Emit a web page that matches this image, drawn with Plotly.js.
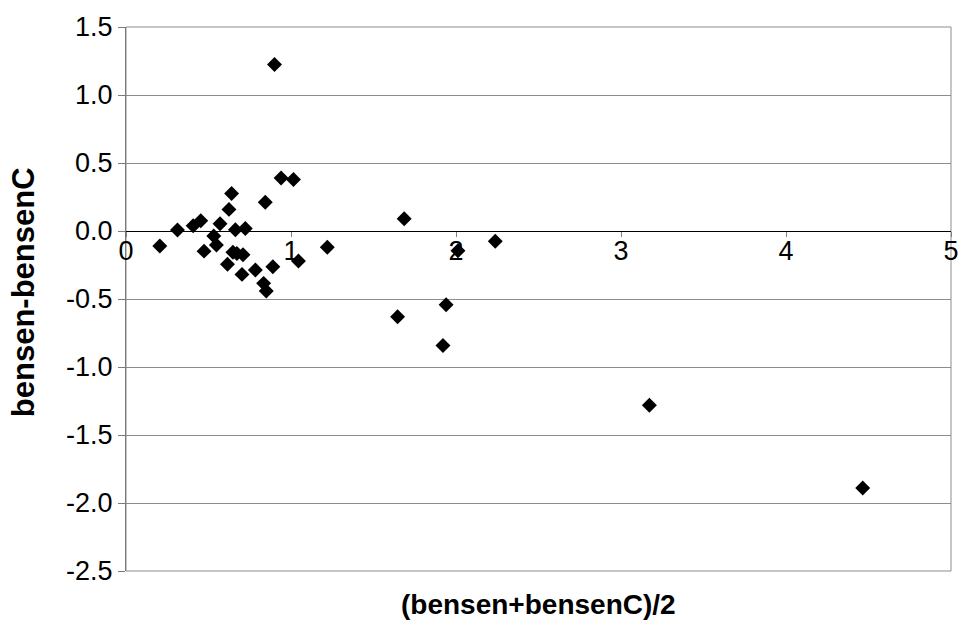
<!DOCTYPE html>
<html>
<head>
<meta charset="utf-8">
<script src="https://cdn.plot.ly/plotly-3.0.1.min.js"></script>
<style>html,body{margin:0;padding:0;background:#fff;}#chart{width:959px;height:639px;}</style>
</head>
<body>
<div id="chart"></div>
<script>
// mean of the two measurements
var meanValues = [0.205, 0.312, 0.407, 0.453, 0.473, 0.532, 0.548, 0.570, 0.624, 0.640,
  0.663, 0.723, 0.648, 0.672, 0.709, 0.615, 0.703, 0.784, 0.834, 0.850,
  0.890, 0.844, 0.940, 1.015, 1.045, 1.220, 0.900,
  1.686, 2.012, 2.238, 1.940, 1.646, 1.921, 3.172, 4.465];
// difference of the two measurements
var diffValues = [-0.111, 0.007, 0.038, 0.075, -0.148, -0.037, -0.103, 0.053, 0.159, 0.276,
  0.009, 0.019, -0.157, -0.165, -0.175, -0.245, -0.319, -0.287, -0.385, -0.441,
  -0.263, 0.212, 0.390, 0.379, -0.221, -0.120, 1.225,
  0.090, -0.145, -0.076, -0.542, -0.630, -0.842, -1.281, -1.890];

var xTickVals = [0, 1, 2, 3, 4, 5];
var xTickText = ['0', '1', '2', '3', '4', '5'];
var yTickVals = [1.5, 1.0, 0.5, 0.0, -0.5, -1.0, -1.5, -2.0, -2.5];
var yTickText = ['1.5', '1.0', '0.5', '0.0', '-0.5', '-1.0', '-1.5', '-2.0', '-2.5'];
var xTitle = '(bensen+bensenC)/2';
var yTitle = 'bensen-bensenC';

var trace = {
  x: meanValues, y: diffValues, type: 'scatter', mode: 'markers',
  marker: {symbol: 'diamond', size: 11.5, color: '#000000', line: {width: 0}},
  hoverinfo: 'x+y', cliponaxis: false
};

var layout = {
  width: 959, height: 639,
  margin: {l: 126, r: 8, t: 27, b: 68, pad: 0},
  paper_bgcolor: '#ffffff', plot_bgcolor: '#ffffff',
  font: {family: 'Liberation Sans, Arial, sans-serif', size: 27, color: '#000'},
  showlegend: false,
  xaxis: {
    range: [0, 5], tickvals: xTickVals, ticktext: xTickText,
    showgrid: false, zeroline: false,
    showline: true, linecolor: '#000', linewidth: 1,
    ticks: 'outside', ticklen: 5, tickcolor: '#808080', tickwidth: 1,
    anchor: 'free', position: 0.625,
    ticklabeloverflow: 'allow', ticklabelstandoff: -9,
    tickfont: {size: 27, color: '#000'}
  },
  yaxis: {
    range: [-2.5, 1.5], tickvals: yTickVals, ticktext: yTickText,
    showgrid: true, gridcolor: '#8c8c8c', gridwidth: 1,
    zeroline: false,
    showline: true, linecolor: '#7a7a7a', linewidth: 1,
    ticks: 'outside', ticklen: 7, tickcolor: '#7a7a7a',
    tickfont: {size: 27, color: '#000'}
  },
  shapes: [
    {type: 'rect', xref: 'paper', yref: 'paper', x0: 0, x1: 1, y0: 0, y1: 1,
     line: {color: '#8c8c8c', width: 1}, fillcolor: 'rgba(0,0,0,0)', layer: 'below'}
  ],
  annotations: [
    {text: '<b>' + xTitle + '</b>', xref: 'paper', yref: 'paper', x: 0.5, y: -0.062,
     xanchor: 'center', yanchor: 'middle', showarrow: false, font: {size: 28, color: '#000'}},
    {text: '<b>' + yTitle + '</b>', xref: 'paper', yref: 'paper', x: -0.124, y: 0.512,
     xanchor: 'center', yanchor: 'middle', textangle: -90, showarrow: false,
     font: {size: 31, color: '#000'}}
  ]
};

Plotly.newPlot('chart', [trace], layout, {displayModeBar: false, staticPlot: true});
</script>
</body>
</html>
